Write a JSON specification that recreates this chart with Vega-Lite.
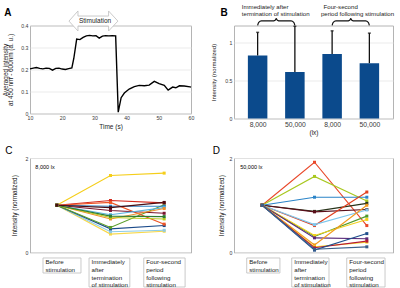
{
  "$schema": "https://vega.github.io/schema/vega-lite/v6.json",
  "background": "white",
  "padding": {"left": 1, "top": 2.5, "right": 0, "bottom": 0},
  "config": {
    "font": "Liberation Sans",
    "view": {"stroke": "#b4b4b4", "strokeWidth": 1},
    "axis": {
      "ticks": false,
      "domain": false,
      "tickCount": 20,
      "labelFontSize": 5.2,
      "labelColor": "#3a3a3a",
      "labelPadding": 2,
      "labelOverlap": false,
      "labelFlush": false,
      "minExtent": 0,
      "titleFontWeight": "normal",
      "titleFontSize": 6.4,
      "titleColor": "#222222",
      "gridColor": "#e6e6e6",
      "gridWidth": 0.8
    }
  },
  "datasets": {
    "intensity": [
      {"t": 10, "v": 0.203}, {"t": 11, "v": 0.206}, {"t": 12, "v": 0.209}, {"t": 13, "v": 0.205},
      {"t": 14, "v": 0.203}, {"t": 15, "v": 0.206}, {"t": 16, "v": 0.205}, {"t": 17, "v": 0.197},
      {"t": 18, "v": 0.205}, {"t": 19, "v": 0.206}, {"t": 20, "v": 0.202}, {"t": 21, "v": 0.2},
      {"t": 22, "v": 0.204}, {"t": 23, "v": 0.207}, {"t": 23.6, "v": 0.25}, {"t": 24.5, "v": 0.338},
      {"t": 25.5, "v": 0.336}, {"t": 26.5, "v": 0.346}, {"t": 27.5, "v": 0.353}, {"t": 28.5, "v": 0.355},
      {"t": 29.5, "v": 0.353}, {"t": 30.5, "v": 0.354}, {"t": 31.5, "v": 0.343}, {"t": 32.5, "v": 0.352},
      {"t": 33.5, "v": 0.354}, {"t": 34.5, "v": 0.353}, {"t": 35.5, "v": 0.354}, {"t": 36.6, "v": 0.353},
      {"t": 37.4, "v": 0.006}, {"t": 38.3, "v": 0.072}, {"t": 39.3, "v": 0.093}, {"t": 40.8, "v": 0.111},
      {"t": 42.4, "v": 0.122}, {"t": 43.9, "v": 0.128}, {"t": 45.5, "v": 0.126}, {"t": 47, "v": 0.129},
      {"t": 48.6, "v": 0.146}, {"t": 50.1, "v": 0.136}, {"t": 51.7, "v": 0.128}, {"t": 52.9, "v": 0.106},
      {"t": 54.3, "v": 0.12}, {"t": 55.3, "v": 0.117}, {"t": 56.4, "v": 0.126}, {"t": 57.9, "v": 0.125},
      {"t": 59.7, "v": 0.121}, {"t": 60, "v": 0.12}
    ],
    "arrow": [
      {"k": 0, "t": 22.1, "v": 0.42}, {"k": 1, "t": 24.9, "v": 0.466}, {"k": 2, "t": 24.9, "v": 0.443},
      {"k": 3, "t": 34.4, "v": 0.443}, {"k": 4, "t": 34.4, "v": 0.466}, {"k": 5, "t": 37.3, "v": 0.42},
      {"k": 6, "t": 34.4, "v": 0.375}, {"k": 7, "t": 34.4, "v": 0.398}, {"k": 8, "t": 24.9, "v": 0.398},
      {"k": 9, "t": 24.9, "v": 0.375}, {"k": 10, "t": 22.1, "v": 0.42}
    ],
    "bars": [
      {"pos": 1, "lux": "8,000", "value": 0.827, "upper": 1.13},
      {"pos": 2, "lux": "50,000", "value": 0.61, "upper": 1.21},
      {"pos": 3, "lux": "8,000", "value": 0.845, "upper": 1.15},
      {"pos": 4, "lux": "50,000", "value": 0.726, "upper": 1.12}
    ],
    "braces": [
      {"g": "a", "k": 0, "x": 1.0, "y": 1.222}, {"g": "a", "k": 1, "x": 1.03, "y": 1.262},
      {"g": "a", "k": 2, "x": 1.1, "y": 1.28}, {"g": "a", "k": 3, "x": 1.4, "y": 1.28},
      {"g": "a", "k": 4, "x": 1.47, "y": 1.29}, {"g": "a", "k": 5, "x": 1.5, "y": 1.31},
      {"g": "a", "k": 6, "x": 1.53, "y": 1.29}, {"g": "a", "k": 7, "x": 1.6, "y": 1.28},
      {"g": "a", "k": 8, "x": 1.9, "y": 1.28}, {"g": "a", "k": 9, "x": 1.97, "y": 1.262},
      {"g": "a", "k": 10, "x": 2.0, "y": 1.222},
      {"g": "b", "k": 0, "x": 3.0, "y": 1.222}, {"g": "b", "k": 1, "x": 3.03, "y": 1.262},
      {"g": "b", "k": 2, "x": 3.1, "y": 1.28}, {"g": "b", "k": 3, "x": 3.4, "y": 1.28},
      {"g": "b", "k": 4, "x": 3.47, "y": 1.29}, {"g": "b", "k": 5, "x": 3.5, "y": 1.31},
      {"g": "b", "k": 6, "x": 3.53, "y": 1.29}, {"g": "b", "k": 7, "x": 3.6, "y": 1.28},
      {"g": "b", "k": 8, "x": 3.9, "y": 1.28}, {"g": "b", "k": 9, "x": 3.97, "y": 1.262},
      {"g": "b", "k": 10, "x": 4.0, "y": 1.222}
    ],
    "notes": [
      {"x": 0.575, "y": 1.466, "text": "Immediately after"},
      {"x": 0.575, "y": 1.369, "text": "termination of stimulation"},
      {"x": 2.77, "y": 1.466, "text": "Four-second"},
      {"x": 2.7, "y": 1.369, "text": "period following stimulation"}
    ],
    "lux8000": [
      {"id": "c01", "stage": 1, "v": 1}, {"id": "c01", "stage": 2, "v": 1.63}, {"id": "c01", "stage": 3, "v": 1.68},
      {"id": "c02", "stage": 1, "v": 1}, {"id": "c02", "stage": 2, "v": 0.39}, {"id": "c02", "stage": 3, "v": 0.45},
      {"id": "c03", "stage": 1, "v": 1}, {"id": "c03", "stage": 2, "v": 0.44}, {"id": "c03", "stage": 3, "v": 0.47},
      {"id": "c04", "stage": 1, "v": 1}, {"id": "c04", "stage": 2, "v": 0.5}, {"id": "c04", "stage": 3, "v": 0.57},
      {"id": "c05", "stage": 1, "v": 1}, {"id": "c05", "stage": 2, "v": 0.53}, {"id": "c05", "stage": 3, "v": 1.01},
      {"id": "c06", "stage": 1, "v": 1}, {"id": "c06", "stage": 2, "v": 1.1}, {"id": "c06", "stage": 3, "v": 1.05},
      {"id": "c07", "stage": 1, "v": 1}, {"id": "c07", "stage": 2, "v": 1.06}, {"id": "c07", "stage": 3, "v": 0.6},
      {"id": "c08", "stage": 1, "v": 1}, {"id": "c08", "stage": 2, "v": 0.98}, {"id": "c08", "stage": 3, "v": 0.98},
      {"id": "c09", "stage": 1, "v": 1}, {"id": "c09", "stage": 2, "v": 0.89}, {"id": "c09", "stage": 3, "v": 0.83},
      {"id": "c10", "stage": 1, "v": 1}, {"id": "c10", "stage": 2, "v": 0.8}, {"id": "c10", "stage": 3, "v": 0.95},
      {"id": "c11", "stage": 1, "v": 1}, {"id": "c11", "stage": 2, "v": 0.71}, {"id": "c11", "stage": 3, "v": 0.93},
      {"id": "c12", "stage": 1, "v": 1}, {"id": "c12", "stage": 2, "v": 0.74}, {"id": "c12", "stage": 3, "v": 0.71},
      {"id": "c13", "stage": 1, "v": 1}, {"id": "c13", "stage": 2, "v": 0.77}, {"id": "c13", "stage": 3, "v": 0.76},
      {"id": "c14", "stage": 1, "v": 1}, {"id": "c14", "stage": 2, "v": 0.95}, {"id": "c14", "stage": 3, "v": 1.06}
    ],
    "lux50000": [
      {"id": "d01", "stage": 1, "v": 1}, {"id": "d01", "stage": 2, "v": 1.91}, {"id": "d01", "stage": 3, "v": 0.57},
      {"id": "d02", "stage": 1, "v": 1}, {"id": "d02", "stage": 2, "v": 1.61}, {"id": "d02", "stage": 3, "v": 1.09},
      {"id": "d03", "stage": 1, "v": 1}, {"id": "d03", "stage": 2, "v": 1.17}, {"id": "d03", "stage": 3, "v": 1.17},
      {"id": "d04", "stage": 1, "v": 1}, {"id": "d04", "stage": 2, "v": 0.87}, {"id": "d04", "stage": 3, "v": 1.04},
      {"id": "d05", "stage": 1, "v": 1}, {"id": "d05", "stage": 2, "v": 0.86}, {"id": "d05", "stage": 3, "v": 0.91},
      {"id": "d06", "stage": 1, "v": 1}, {"id": "d06", "stage": 2, "v": 0.57}, {"id": "d06", "stage": 3, "v": 1.28},
      {"id": "d07", "stage": 1, "v": 1}, {"id": "d07", "stage": 2, "v": 0.59}, {"id": "d07", "stage": 3, "v": 0.9},
      {"id": "d08", "stage": 1, "v": 1}, {"id": "d08", "stage": 2, "v": 0.34}, {"id": "d08", "stage": 3, "v": 0.77},
      {"id": "d09", "stage": 1, "v": 1}, {"id": "d09", "stage": 2, "v": 0.36}, {"id": "d09", "stage": 3, "v": 0.7},
      {"id": "d10", "stage": 1, "v": 1}, {"id": "d10", "stage": 2, "v": 0.31}, {"id": "d10", "stage": 3, "v": 0.29},
      {"id": "d11", "stage": 1, "v": 1}, {"id": "d11", "stage": 2, "v": 0.16}, {"id": "d11", "stage": 3, "v": 1.0},
      {"id": "d12", "stage": 1, "v": 1}, {"id": "d12", "stage": 2, "v": 0.12}, {"id": "d12", "stage": 3, "v": 0.22},
      {"id": "d13", "stage": 1, "v": 1}, {"id": "d13", "stage": 2, "v": 0.1}, {"id": "d13", "stage": 3, "v": 0.24},
      {"id": "d14", "stage": 1, "v": 1}, {"id": "d14", "stage": 2, "v": 0.05}, {"id": "d14", "stage": 3, "v": 0.4},
      {"id": "d15", "stage": 1, "v": 1}, {"id": "d15", "stage": 2, "v": 0.07}, {"id": "d15", "stage": 3, "v": 0.12}
    ],
    "boxes": [
      {"panel": "C", "x0": 0.742, "x1": 1.45, "y0": -0.116, "y1": -0.434, "label": "Before\nstimulation"},
      {"panel": "C", "x0": 1.6, "x1": 2.36, "y0": -0.116, "y1": -0.73, "label": "Immediately\nafter\ntermination\nof stimulation"},
      {"panel": "C", "x0": 2.62, "x1": 3.39, "y0": -0.116, "y1": -0.73, "label": "Four-second\nperiod\nfollowing\nstimulation"},
      {"panel": "D", "x0": 0.705, "x1": 1.34, "y0": -0.116, "y1": -0.434, "label": "Before\nstimulation"},
      {"panel": "D", "x0": 1.565, "x1": 2.277, "y0": -0.116, "y1": -0.73, "label": "Immediately\nafter\ntermination\nof stimulation"},
      {"panel": "D", "x0": 2.616, "x1": 3.348, "y0": -0.116, "y1": -0.73, "label": "Four-second\nperiod\nfollowing\nstimulation"}
    ]
  },
  "columns": 2,
  "bounds": "flush",
  "align": "all",
  "spacing": {"row": 37.5, "column": 43},
  "concat": [
    {
      "width": 161,
      "height": 88,
      "layer": [
        {
          "data": {"name": "intensity"},
          "mark": {"type": "line", "color": "#000000", "strokeWidth": 1.4},
          "encoding": {
            "x": {"field": "t", "type": "quantitative", "scale": {"domain": [10, 60], "nice": false},
                  "axis": {"title": "Time (s)", "values": [10, 20, 30, 40, 50, 60], "tickCount": 20, "format": "d", "labelOverlap": false, "grid": false, "titleFontSize": 6.5, "titlePadding": 3}},
            "y": {"field": "v", "type": "quantitative", "scale": {"domain": [0, 0.4], "nice": false},
                  "axis": {"title": ["Averaged intensity", "at 450 nm - 600nm (a. u.)"], "values": [0, 0.1, 0.2, 0.3, 0.4], "tickCount": 20, "format": ".1~f", "labelOverlap": false, "minExtent": 0, "grid": true, "titlePadding": 7, "titleLineHeight": 5.5}}
          }
        },
        {
          "data": {"name": "arrow"},
          "mark": {"type": "line", "stroke": "#c4c4c4", "fill": "white", "strokeWidth": 0.9, "clip": false},
          "encoding": {
            "x": {"field": "t", "type": "quantitative"},
            "y": {"field": "v", "type": "quantitative"},
            "order": {"field": "k"}
          }
        },
        {
          "data": {"values": [{"t": 30.2, "v": 0.42, "label": "Stimulation"}]},
          "mark": {"type": "text", "fontSize": 6.5, "color": "#222222", "baseline": "middle", "clip": false},
          "encoding": {
            "x": {"field": "t", "type": "quantitative"},
            "y": {"field": "v", "type": "quantitative"},
            "text": {"field": "label"}
          }
        },
        {
          "data": {"values": [{"t": 2.0, "v": 0.457, "label": "A"}]},
          "mark": {"type": "text", "fontSize": 10, "fontWeight": "bold", "align": "left", "baseline": "middle", "clip": false},
          "encoding": {
            "x": {"field": "t", "type": "quantitative"},
            "y": {"field": "v", "type": "quantitative"},
            "text": {"field": "label"}
          }
        }
      ]
    },
    {
      "width": 159,
      "height": 93,
      "layer": [
        {
          "data": {"name": "bars"},
          "mark": {"type": "bar", "color": "#0b4a8c", "size": 19.5},
          "encoding": {
            "x": {"field": "pos", "type": "quantitative", "scale": {"domain": [0.5, 4.5], "nice": false, "zero": false},
                  "axis": {"values": [1, 2, 3, 4], "tickCount": 20, "labelExpr": "datum.value % 2 == 1 ? '8,000' : '50,000'", "labelOverlap": false, "title": "(lx)", "grid": false, "labelFontSize": 6.8, "titleFontSize": 6.5, "labelPadding": 3, "titlePadding": 1}},
            "y": {"field": "value", "type": "quantitative", "scale": {"domain": [0, 1.22], "nice": false},
                  "axis": {"values": [0, 0.5, 1], "tickCount": 20, "format": ".1~f", "labelOverlap": false, "minExtent": 0, "title": "Intensity (normalized)", "titleFontSize": 6, "titlePadding": 8}}
          }
        },
        {
          "data": {"name": "bars"},
          "mark": {"type": "rule", "color": "#111111", "strokeWidth": 1.3},
          "encoding": {
            "x": {"field": "pos", "type": "quantitative"},
            "y": {"field": "value", "type": "quantitative"},
            "y2": {"field": "upper"}
          }
        },
        {
          "data": {"name": "bars"},
          "mark": {"type": "tick", "orient": "horizontal", "color": "#111111", "size": 3, "thickness": 1.5},
          "encoding": {
            "x": {"field": "pos", "type": "quantitative"},
            "y": {"field": "upper", "type": "quantitative"}
          }
        },
        {
          "data": {"name": "braces"},
          "mark": {"type": "line", "color": "#111111", "strokeWidth": 1.2, "interpolate": "monotone", "clip": false},
          "encoding": {
            "x": {"field": "x", "type": "quantitative"},
            "y": {"field": "y", "type": "quantitative"},
            "detail": {"field": "g"},
            "order": {"field": "k"}
          }
        },
        {
          "data": {"name": "notes"},
          "mark": {"type": "text", "fontSize": 6.1, "color": "#222222", "align": "left", "baseline": "middle", "clip": false},
          "encoding": {
            "x": {"field": "x", "type": "quantitative"},
            "y": {"field": "y", "type": "quantitative"},
            "text": {"field": "text"}
          }
        },
        {
          "data": {"values": [{"x": 0.0, "y": 1.384, "label": "B"}]},
          "mark": {"type": "text", "fontSize": 10, "fontWeight": "bold", "align": "left", "baseline": "middle", "clip": false},
          "encoding": {
            "x": {"field": "x", "type": "quantitative"},
            "y": {"field": "y", "type": "quantitative"},
            "text": {"field": "label"}
          }
        }
      ]
    },
    {
      "width": 161,
      "height": 94.5,
      "layer": [
        {
          "data": {"name": "boxes"},
          "transform": [{"filter": "datum.panel == 'C'"}],
          "mark": {"type": "rect", "fill": "white", "stroke": "#bdbdbd", "strokeWidth": 0.8, "clip": false},
          "encoding": {
            "x": {"field": "x0", "type": "quantitative", "scale": {"domain": [0.5, 3.5], "nice": false, "zero": false}, "axis": null},
            "x2": {"field": "x1"},
            "y": {"field": "y0", "type": "quantitative", "scale": {"domain": [0, 2], "nice": false},
                  "axis": {"values": [0, 1, 2], "tickCount": 20, "format": "d", "labelOverlap": false, "minExtent": 0, "title": "Intensity (normalized)", "grid": true, "gridColor": "#ececec", "titlePadding": 8}},
            "y2": {"field": "y1"}
          }
        },
        {
          "data": {"name": "boxes"},
          "transform": [{"filter": "datum.panel == 'C'"}],
          "mark": {"type": "text", "align": "left", "baseline": "top", "fontSize": 6.2, "lineHeight": 7.6, "lineBreak": "\n", "dx": 2.5, "dy": 1.5, "color": "#222222", "clip": false},
          "encoding": {
            "x": {"field": "x0", "type": "quantitative"},
            "y": {"field": "y0", "type": "quantitative"},
            "text": {"field": "label"}
          }
        },
        {
          "data": {"name": "lux8000"},
          "mark": {"type": "line", "strokeWidth": 1.1, "point": {"shape": "square", "size": 9, "filled": true}},
          "encoding": {
            "x": {"field": "stage", "type": "quantitative"},
            "y": {"field": "v", "type": "quantitative"},
            "color": {"field": "id", "type": "nominal", "legend": null,
              "scale": {
                "domain": ["c01", "c02", "c03", "c04", "c05", "c06", "c07", "c08", "c09", "c10", "c11", "c12", "c13", "c14",
                           "d01", "d02", "d03", "d04", "d05", "d06", "d07", "d08", "d09", "d10", "d11", "d12", "d13", "d14", "d15"],
                "range": ["#f5ce1a", "#f8d84a", "#8ccbe8", "#1a4a8a", "#5a9e2a", "#d42a1e", "#ee5526", "#2f82c4", "#7a1630", "#5db4e0", "#f2902a", "#b9c91c", "#2e7d32", "#4a0d12",
                          "#e9482a", "#a8c820", "#2a84c8", "#28331a", "#5a0e1a", "#e0401f", "#7ec6ec", "#4f9a2a", "#f2d01c", "#5a2a7a", "#f39a1e", "#f6da28", "#b3173a", "#1f4e8c", "#3a5f8a"]
              }}
          }
        },
        {
          "data": {"values": [{"x": 0.6, "y": 1.816, "label": "8,000 lx"}, {"x": 0.04, "y": 2.14, "label": "C"}]},
          "mark": {"type": "text", "align": "left", "baseline": "middle", "clip": false},
          "encoding": {
            "x": {"field": "x", "type": "quantitative"},
            "y": {"field": "y", "type": "quantitative"},
            "text": {"field": "label"},
            "size": {"condition": {"test": "datum.label == 'C'", "value": 10}, "value": 5.5},
            "fontWeight": {"condition": {"test": "datum.label == 'C'", "value": "bold"}, "value": "normal"}
          }
        }
      ]
    },
    {
      "width": 159,
      "height": 94.5,
      "layer": [
        {
          "data": {"name": "boxes"},
          "transform": [{"filter": "datum.panel == 'D'"}],
          "mark": {"type": "rect", "fill": "white", "stroke": "#bdbdbd", "strokeWidth": 0.8, "clip": false},
          "encoding": {
            "x": {"field": "x0", "type": "quantitative", "scale": {"domain": [0.462, 3.5], "nice": false, "zero": false}, "axis": null},
            "x2": {"field": "x1"},
            "y": {"field": "y0", "type": "quantitative", "scale": {"domain": [0, 2], "nice": false},
                  "axis": {"values": [0, 1, 2], "tickCount": 20, "format": "d", "labelOverlap": false, "minExtent": 0, "title": "Intensity (normalized)", "grid": true, "gridColor": "#ececec", "titlePadding": 5}},
            "y2": {"field": "y1"}
          }
        },
        {
          "data": {"name": "boxes"},
          "transform": [{"filter": "datum.panel == 'D'"}],
          "mark": {"type": "text", "align": "left", "baseline": "top", "fontSize": 6.2, "lineHeight": 7.6, "lineBreak": "\n", "dx": 2.5, "dy": 1.5, "color": "#222222", "clip": false},
          "encoding": {
            "x": {"field": "x0", "type": "quantitative"},
            "y": {"field": "y0", "type": "quantitative"},
            "text": {"field": "label"}
          }
        },
        {
          "data": {"name": "lux50000"},
          "mark": {"type": "line", "strokeWidth": 1.1, "point": {"shape": "square", "size": 9, "filled": true}},
          "encoding": {
            "x": {"field": "stage", "type": "quantitative"},
            "y": {"field": "v", "type": "quantitative"},
            "color": {"field": "id", "type": "nominal", "legend": null,
              "scale": {
                "domain": ["c01", "c02", "c03", "c04", "c05", "c06", "c07", "c08", "c09", "c10", "c11", "c12", "c13", "c14",
                           "d01", "d02", "d03", "d04", "d05", "d06", "d07", "d08", "d09", "d10", "d11", "d12", "d13", "d14", "d15"],
                "range": ["#f5ce1a", "#f8d84a", "#8ccbe8", "#1a4a8a", "#5a9e2a", "#d42a1e", "#ee5526", "#2f82c4", "#7a1630", "#5db4e0", "#f2902a", "#b9c91c", "#2e7d32", "#4a0d12",
                          "#e9482a", "#a8c820", "#2a84c8", "#28331a", "#5a0e1a", "#e0401f", "#7ec6ec", "#4f9a2a", "#f2d01c", "#5a2a7a", "#f39a1e", "#f6da28", "#b3173a", "#1f4e8c", "#3a5f8a"]
              }}
          }
        },
        {
          "data": {"values": [{"x": 0.58, "y": 1.81, "label": "50,000 lx"}, {"x": 0.055, "y": 2.14, "label": "D"}]},
          "mark": {"type": "text", "align": "left", "baseline": "middle", "clip": false},
          "encoding": {
            "x": {"field": "x", "type": "quantitative"},
            "y": {"field": "y", "type": "quantitative"},
            "text": {"field": "label"},
            "size": {"condition": {"test": "datum.label == 'D'", "value": 10}, "value": 5.5},
            "fontWeight": {"condition": {"test": "datum.label == 'D'", "value": "bold"}, "value": "normal"}
          }
        }
      ]
    }
  ]
}
